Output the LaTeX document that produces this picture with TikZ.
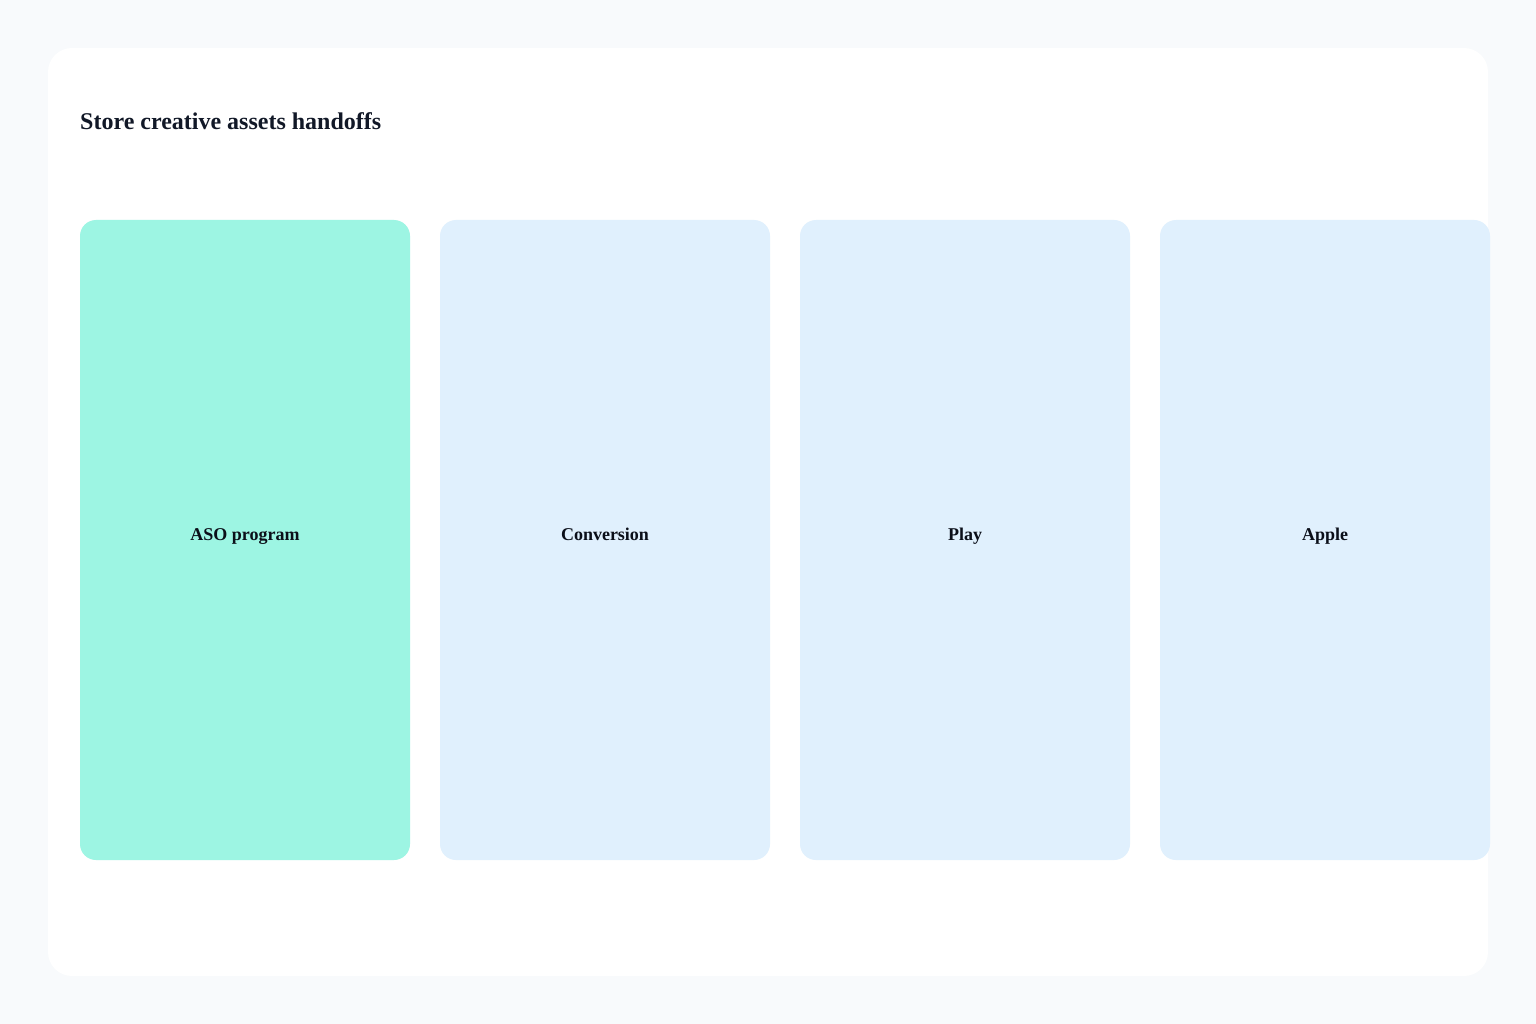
\documentclass[tikz,border=0pt]{standalone}
\usepackage{fontspec}
\setmainfont{Liberation Serif}
\definecolor{pagebg}{HTML}{F8FAFC}
\definecolor{mint}{HTML}{9DF5E3}
\definecolor{paleblue}{HTML}{E0F0FD}
\definecolor{titleink}{HTML}{111827}
\definecolor{labelink}{HTML}{0B0F19}
\begin{document}
\begin{tikzpicture}[x=1pt,y=-1pt,
  lane/.style={rounded corners=16pt, draw=none},
  lanelabel/.style={font=\fontsize{18}{21}\selectfont\bfseries, text=labelink, anchor=base, inner sep=0},
  ]
\fill[pagebg] (0,0) rectangle (1536,1024);
\useasboundingbox (0,0) rectangle (1536,1024);
\fill[white, rounded corners=24pt] (48,48) rectangle (1488,976);
\node[anchor=base west, font=\fontsize{24}{28}\selectfont\bfseries, text=titleink, inner sep=0] (title) at (80,130) {Store creative assets handoffs};
\fill[lane, mint] (80,220) rectangle (410,860);
\fill[lane, paleblue] (440,220) rectangle (770,860);
\fill[lane, paleblue] (800,220) rectangle (1130,860);
\fill[lane, paleblue] (1160,220) rectangle (1490,860);
\node[lanelabel] (aso) at (245,540) {ASO program};
\node[lanelabel] (conv) at (605,540) {Conversion};
\node[lanelabel] (play) at (965,540) {Play};
\node[lanelabel] (apple) at (1325,540) {Apple};
\end{tikzpicture}
\end{document}
